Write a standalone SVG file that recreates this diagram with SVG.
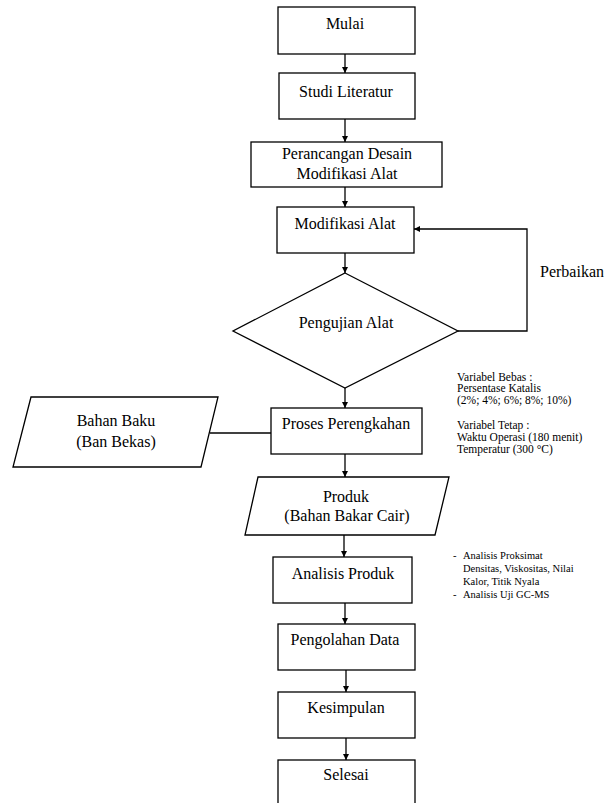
<svg xmlns="http://www.w3.org/2000/svg" width="609" height="803" viewBox="0 0 609 803">
<defs>
<style>
.n{fill:#fff;stroke:#000;stroke-width:1.3}
.t{font-family:"Liberation Serif","Times New Roman",serif;font-size:16px;fill:#000;text-anchor:middle}
.s{font-family:"Liberation Serif","Times New Roman",serif;font-size:11.5px;fill:#000}
.c{fill:none;stroke:#000;stroke-width:1.3}
</style>
<marker id="ah" viewBox="0 0 10 10" refX="10" refY="5" markerWidth="6" markerHeight="7" markerUnits="userSpaceOnUse" orient="auto">
<path d="M0,0 L10,5 L0,10 z" fill="#000"/>
</marker>
</defs>
<rect width="609" height="803" fill="#fff"/>
<g id="connectors">
<line class="c" x1="345" y1="54" x2="345" y2="73" marker-end="url(#ah)"/>
<line class="c" x1="345" y1="119" x2="345" y2="142" marker-end="url(#ah)"/>
<line class="c" x1="345" y1="187" x2="345" y2="207" marker-end="url(#ah)"/>
<line class="c" x1="345" y1="253" x2="345" y2="273" marker-end="url(#ah)"/>
<line class="c" x1="345" y1="388" x2="345" y2="408" marker-end="url(#ah)"/>
<line class="c" x1="345" y1="454" x2="345" y2="477" marker-end="url(#ah)"/>
<line class="c" x1="344" y1="535" x2="344" y2="557" marker-end="url(#ah)"/>
<line class="c" x1="345" y1="603" x2="345" y2="624" marker-end="url(#ah)"/>
<line class="c" x1="346" y1="670" x2="346" y2="692" marker-end="url(#ah)"/>
<line class="c" x1="346" y1="738" x2="346" y2="760" marker-end="url(#ah)"/>
<polyline class="c" points="458,331 527,331 527,229 414,229" marker-end="url(#ah)"/>
<line class="c" x1="210" y1="433" x2="271" y2="433"/>
<text class="t" x="572" y="277">Perbaikan</text>
</g>
<g id="mulai"><rect class="n" x="278" y="7" width="137" height="47"/><text class="t" x="345" y="29">Mulai</text></g>
<g id="studi"><rect class="n" x="279" y="73" width="136" height="46"/><text class="t" x="346" y="97">Studi Literatur</text></g>
<g id="perancangan"><rect class="n" x="251" y="142" width="191" height="45"/><text class="t" x="347" y="159">Perancangan Desain</text><text class="t" x="347" y="179">Modifikasi Alat</text></g>
<g id="modifikasi"><rect class="n" x="277" y="207" width="137" height="46"/><text class="t" x="345" y="229">Modifikasi Alat</text></g>
<g id="pengujian"><polygon class="n" points="345,273 458,331 345,388 233,331"/><text class="t" x="346" y="328">Pengujian Alat</text></g>
<g id="bahanbaku"><polygon class="n" points="31,397 218,397 201,467 13,467"/><text class="t" x="116" y="426">Bahan Baku</text><text class="t" x="116" y="447">(Ban Bekas)</text></g>
<g id="proses"><rect class="n" x="271" y="408" width="151" height="46"/><text class="t" x="346" y="429">Proses Perengkahan</text></g>
<g id="produk"><polygon class="n" points="258,477 449,477 435,535 245,535"/><text class="t" x="346" y="502">Produk</text><text class="t" x="347" y="521">(Bahan Bakar Cair)</text></g>
<g id="analisis"><rect class="n" x="273" y="557" width="139" height="46"/><text class="t" x="343" y="579">Analisis Produk</text></g>
<g id="pengolahan"><rect class="n" x="278" y="624" width="137" height="46"/><text class="t" x="345" y="645">Pengolahan Data</text></g>
<g id="kesimpulan"><rect class="n" x="278" y="692" width="137" height="46"/><text class="t" x="346" y="713">Kesimpulan</text></g>
<g id="selesai"><rect class="n" x="278" y="760" width="137" height="46"/><text class="t" x="346" y="780">Selesai</text></g>
<g id="variabel">
<text class="s" x="457" y="381">Variabel Bebas :</text>
<text class="s" x="457" y="392">Persentase Katalis</text>
<text class="s" x="457" y="404">(2%; 4%; 6%; 8%; 10%)</text>
<text class="s" x="457" y="429">Variabel Tetap :</text>
<text class="s" x="457" y="441">Waktu Operasi (180 menit)</text>
<text class="s" x="457" y="453">Temperatur (300 °C)</text>
</g>
<g id="analisis-note" style="font-size:10.5px">
<text class="s" x="453" y="559" style="font-size:10.5px">-</text>
<text class="s" x="463" y="559" style="font-size:10.5px">Analisis Proksimat</text>
<text class="s" x="463" y="572" style="font-size:10.5px">Densitas, Viskositas, Nilai</text>
<text class="s" x="463" y="585" style="font-size:10.5px">Kalor, Titik Nyala</text>
<text class="s" x="453" y="598" style="font-size:10.5px">-</text>
<text class="s" x="463" y="598" style="font-size:10.5px">Analisis Uji GC-MS</text>
</g>
</svg>
